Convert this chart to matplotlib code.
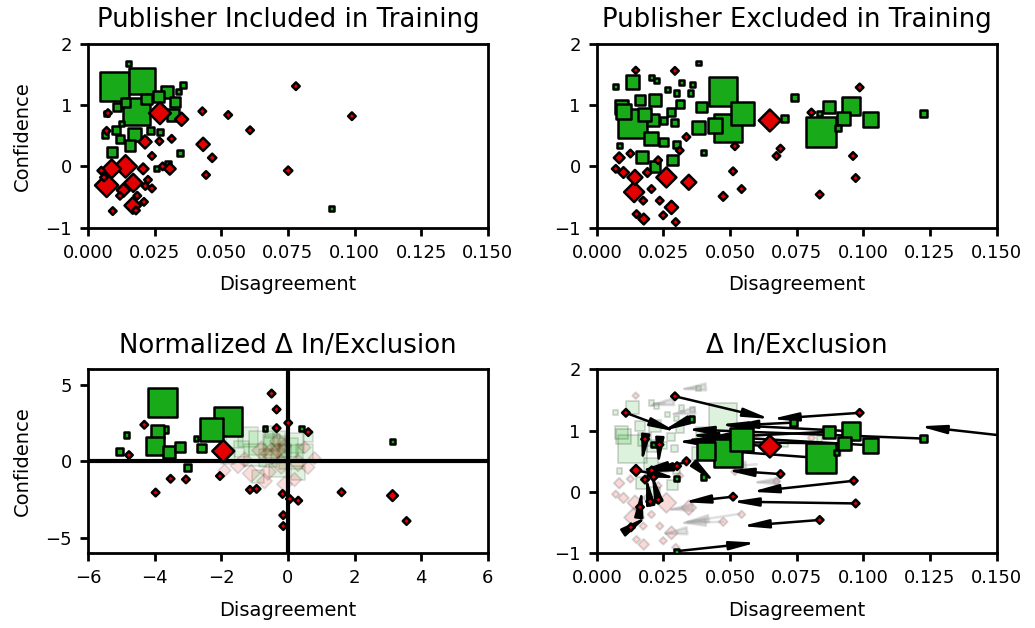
import matplotlib
matplotlib.use("Agg")
import matplotlib.pyplot as plt
import numpy as np
from matplotlib.patches import FancyArrowPatch

GREEN = '#19aa19'
RED = '#e30000'

# --- Publisher included in training: (disagreement, confidence, marker size)
inc_green = [
    (0.0101, 1.30, 440), (0.0204, 1.40, 350), (0.0183, 0.89, 380), (0.0176, 0.52, 90),
    (0.0151, 1.68, 15), (0.0297, 1.22, 75), (0.0326, 1.05, 55), (0.0357, 1.33, 15),
    (0.0339, 1.22, 15), (0.0264, 1.14, 55), (0.0108, 0.97, 35), (0.0320, 0.84, 75),
    (0.0105, 0.59, 35), (0.0233, 0.59, 25), (0.0158, 0.34, 55), (0.0089, 0.23, 55),
    (0.0064, 0.51, 15), (0.0270, 0.56, 15), (0.0345, 0.22, 15), (0.0258, -0.03, 15),
    (0.0126, 0.70, 15), (0.0070, 0.86, 15), (0.0912, -0.69, 12), (0.0300, 0.05, 15),
    (0.0140, 1.05, 40), (0.0220, 1.10, 60), (0.0120, 0.45, 30),
]
inc_red = [
    (0.0270, 0.87, 125), (0.0351, 0.77, 45), (0.0214, 0.40, 45), (0.0141, 0.00, 130),
    (0.0089, -0.04, 90), (0.0070, -0.31, 140), (0.0170, -0.27, 85), (0.0133, -0.39, 45),
    (0.0168, -0.64, 70), (0.0207, -0.04, 30), (0.0307, -0.04, 35), (0.0432, 0.36, 45),
    (0.0429, 0.90, 15), (0.0526, 0.84, 15), (0.0608, 0.59, 15), (0.0466, 0.14, 18),
    (0.0443, -0.14, 15), (0.0751, -0.07, 18), (0.0093, -0.73, 15), (0.0314, 0.45, 15),
    (0.0268, 0.41, 15), (0.0780, 1.31, 15), (0.0990, 0.82, 15), (0.0215, -0.32, 15),
    (0.0240, -0.36, 15), (0.0225, -0.22, 15), (0.0185, -0.48, 15), (0.0210, -0.58, 15),
    (0.0180, -0.72, 15), (0.0120, -0.48, 15), (0.0050, -0.07, 15), (0.0070, 0.58, 15),
    (0.0075, 0.87, 15), (0.0060, -0.18, 15), (0.0280, 0.00, 15), (0.0240, 0.17, 15),
]

# --- Publisher excluded in training
exc_green = [
    (0.0134, 0.70, 420), (0.0474, 1.22, 420), (0.0493, 0.63, 420), (0.0546, 0.86, 280),
    (0.0443, 0.67, 110), (0.0380, 0.63, 90), (0.0393, 0.97, 55), (0.0134, 1.38, 90),
    (0.0218, 1.08, 75), (0.0161, 1.08, 55), (0.0093, 0.97, 90), (0.0203, 0.45, 90),
    (0.0168, 0.15, 75), (0.0284, 0.11, 55), (0.0218, 0.00, 55), (0.0278, 0.89, 35),
    (0.0311, 1.02, 35), (0.0293, 0.71, 25), (0.0211, 0.75, 75), (0.0249, 0.75, 25),
    (0.0086, 0.34, 15), (0.0071, 1.30, 15), (0.0205, 1.45, 15), (0.0224, 1.40, 15),
    (0.0264, 1.26, 15), (0.0318, 1.37, 15), (0.0299, 1.20, 15), (0.0352, 1.20, 15),
    (0.0359, 1.34, 15), (0.0380, 1.69, 12), (0.0399, 0.23, 15), (0.0743, 1.12, 25),
    (0.0705, 0.79, 25), (0.0840, 0.56, 460), (0.0953, 0.98, 165), (0.0870, 0.97, 75),
    (0.0924, 0.78, 90), (0.1027, 0.77, 110), (0.1226, 0.86, 25), (0.0905, 0.63, 15),
    (0.0836, 0.86, 15), (0.0100, 0.90, 120), (0.0180, 0.85, 90), (0.0250, 0.40, 40),
    (0.0300, 0.35, 25),
]
exc_red = [
    (0.0649, 0.75, 125), (0.0345, -0.26, 58), (0.0261, -0.18, 104), (0.0140, -0.42, 104),
    (0.0143, -0.18, 58), (0.0280, -0.67, 45), (0.0084, 0.14, 30), (0.0126, 0.21, 15),
    (0.0176, -0.86, 30), (0.0149, -0.78, 15), (0.0249, -0.80, 15), (0.0296, -0.91, 15),
    (0.0474, -0.49, 20), (0.0543, -0.37, 15), (0.0511, -0.08, 15), (0.0518, 0.33, 15),
    (0.0689, 0.29, 15), (0.0674, 0.17, 15), (0.0293, 1.56, 15), (0.0146, 1.57, 12),
    (0.0336, 0.48, 15), (0.0311, 0.26, 15), (0.0174, -0.56, 15), (0.0071, -0.04, 15),
    (0.0236, -0.56, 15), (0.0205, -0.37, 15), (0.0986, 1.29, 15), (0.0961, 0.17, 15),
    (0.0971, -0.19, 15), (0.0836, -0.46, 15), (0.0805, 0.88, 15), (0.0100, -0.10, 30),
    (0.0190, -0.10, 20), (0.0230, 0.10, 15),
]

# --- Normalized delta (highlighted publishers)
nd_green = [
    (-3.77, 3.82, 440), (-1.79, 2.60, 420), (-2.29, 2.05, 280), (-3.69, 2.05, 25),
    (-3.92, 1.94, 90), (-3.99, 0.99, 160), (-3.56, 0.62, 75), (-3.24, 0.91, 55),
    (-2.59, 0.84, 35), (-3.02, -0.44, 25), (-5.04, 0.66, 25), (-4.84, 1.72, 15),
    (-2.76, 1.46, 12), (-0.69, 2.16, 12), (0.41, 2.16, 12), (3.13, 1.28, 12),
]
nd_red = [
    (-1.94, 0.66, 125), (-4.31, 2.38, 15), (-4.77, 0.40, 15), (-3.97, -2.05, 15),
    (-3.52, -1.15, 15), (-3.06, -1.19, 15), (-2.04, -0.97, 15), (-0.49, 4.42, 15),
    (-0.34, 3.38, 15), (-0.34, 2.16, 15), (0.01, 2.50, 15), (-1.14, -1.87, 15),
    (-0.94, -1.81, 15), (-0.16, -2.14, 15), (0.06, -2.47, 15), (0.31, -2.58, 15),
    (-0.14, -3.53, 15), (-0.14, -4.24, 15), (0.61, 1.90, 15), (1.61, -2.03, 15),
    (3.14, -2.25, 30), (3.56, -3.91, 15),
]
# faint background of all other publishers
nd_bg_green = [
    (-1.6, 1.4, 150), (-1.2, 1.6, 200), (-0.8, 1.2, 300), (-0.4, 0.9, 250), (-0.2, 1.5, 120),
    (0.2, 1.2, 200), (0.5, 0.6, 150), (-1.0, 0.4, 250), (-0.6, 0.2, 180), (0.1, 0.3, 300),
    (-0.3, -0.5, 150), (-1.4, 0.8, 120), (0.6, 1.6, 60), (-0.5, 1.9, 80), (0.3, -0.8, 100),
    (-1.8, 0.3, 100), (-0.9, -1.0, 80), (0.0, 0.9, 200), (-0.2, 0.5, 200), (-0.5, 1.2, 150),
]
nd_bg_red = [
    (-1.5, -0.3, 60), (-1.1, -0.8, 80), (-0.7, -1.3, 60), (-0.2, -0.2, 100), (0.3, -0.1, 80),
    (-0.5, 0.5, 120), (-1.3, 0.1, 60), (0.6, -0.4, 50), (-0.1, -1.5, 60), (0.5, 0.9, 40),
    (-0.8, 0.7, 90), (-1.9, -0.6, 40), (0.8, 0.2, 40), (-0.3, 1.3, 70), (-0.6, -0.7, 70),
    (0.2, -1.2, 50), (-0.3, 0.7, 60), (-0.1, 1.0, 50),
]

# --- Delta in/exclusion (highlighted publishers)
dl_green = [
    (0.0493, 0.63, 400), (0.0543, 0.85, 275), (0.0411, 0.66, 170), (0.0736, 1.13, 25),
    (0.0840, 0.55, 460), (0.0953, 0.99, 165), (0.0870, 0.98, 75), (0.0928, 0.79, 90),
    (0.1026, 0.76, 110), (0.1224, 0.87, 25), (0.0354, 1.19, 15), (0.0215, 0.77, 15),
    (0.0399, 0.24, 15), (0.0299, 0.22, 15), (0.0299, -0.97, 12), (0.0900, 0.64, 15),
]
dl_red = [
    (0.0649, 0.74, 125), (0.0986, 1.29, 15), (0.0293, 1.56, 15), (0.0109, 1.29, 15),
    (0.0181, 0.86, 15), (0.0235, 0.77, 15), (0.0147, 0.35, 30), (0.0336, 0.50, 15),
    (0.0301, 0.42, 15), (0.0689, 0.29, 15), (0.0964, 0.18, 15), (0.0971, -0.19, 15),
    (0.0511, -0.08, 15), (0.0836, -0.46, 15), (0.0181, 0.20, 15), (0.0206, 0.35, 15),
    (0.0213, 0.24, 15), (0.0200, -0.16, 15), (0.0231, -0.13, 15), (0.0162, -0.25, 15),
    (0.0128, -0.58, 15),
]
# (x start, y start, x end, y end)
dl_arrows = [
    (0.0293, 1.56, 0.0650, 1.19), (0.0986, 1.29, 0.0655, 1.19), (0.0109, 1.29, 0.0300, 0.98),
    (0.0354, 1.19, 0.0245, 0.99), (0.0181, 0.86, 0.0169, 0.47), (0.0235, 0.77, 0.0231, 0.42),
    (0.1224, 0.87, 0.0336, 1.02), (0.1026, 0.76, 0.0349, 0.93), (0.0953, 0.99, 0.0461, 1.10),
    (0.0870, 0.98, 0.0399, 0.88), (0.0928, 0.79, 0.0299, 0.82), (0.0840, 0.55, 0.0380, 0.70),
    (0.0649, 0.74, 0.0330, 0.86), (0.0736, 1.13, 0.0500, 1.08), (0.1600, 0.88, 0.1210, 1.07),
    (0.0689, 0.29, 0.0486, 0.35), (0.0964, 0.18, 0.0580, 0.00), (0.0971, -0.19, 0.0505, -0.16),
    (0.0511, -0.08, 0.0324, -0.17), (0.0836, -0.46, 0.0543, -0.56), (0.0299, -0.97, 0.0599, -0.83),
    (0.0369, 0.44, 0.0444, 0.15), (0.0335, 0.48, 0.0160, 0.34), (0.0301, 0.42, 0.0180, 0.32),
    (0.0147, 0.35, 0.0300, 0.22), (0.0162, -0.25, 0.0170, 0.05), (0.0231, -0.13, 0.0206, 0.30),
    (0.0200, -0.16, 0.0185, 0.25), (0.0128, -0.58, 0.0190, -0.40),
]
dl_faint_arrows = [
    (0.0375, 1.70, 0.0300, 1.67), (0.0536, -0.36, 0.0311, -0.51), (0.0474, -0.49, 0.0300, -0.51),
    (0.0674, 0.17, 0.0574, 0.15), (0.0281, -0.67, 0.0230, -0.70), (0.0255, 1.45, 0.0180, 1.40),
    (0.0330, 1.30, 0.0260, 1.25), (0.0600, 0.45, 0.0450, 0.40), (0.0345, -0.26, 0.0250, -0.30),
]

plt.rcParams['axes.linewidth'] = 2
plt.rcParams['xtick.major.width'] = 2
plt.rcParams['ytick.major.width'] = 2
plt.rcParams['xtick.major.size'] = 6
plt.rcParams['ytick.major.size'] = 6
plt.rcParams['xtick.major.pad'] = 5.5
plt.rcParams['ytick.major.pad'] = 5.5
plt.rcParams['xtick.labelsize'] = 13
plt.rcParams['ytick.labelsize'] = 13
plt.rcParams['axes.labelpad'] = 10
plt.rcParams['axes.titlepad'] = 12


def scatter(ax, pts, marker, color, alpha=1.0, lw=1.8, z=3):
    a = np.array(pts)
    ax.scatter(a[:, 0], a[:, 1], s=a[:, 2], marker=marker, c=color,
               edgecolors='black', linewidths=lw, alpha=alpha, zorder=z)


def arrows(ax, arr, color='black', alpha=1.0, lw=1.8, z=2):
    for x0, y0, x1, y1 in arr:
        p = FancyArrowPatch((x0, y0), (x1, y1), arrowstyle='-|>,head_length=1.1,head_width=0.18',
                            mutation_scale=14, color=color, lw=lw, alpha=alpha,
                            shrinkA=0, shrinkB=0, zorder=z)
        ax.add_patch(p)


fig, axs = plt.subplots(2, 2, figsize=(10.35, 6.28), dpi=100)
fig.subplots_adjust(left=0.085, right=0.963, top=0.930, bottom=0.1194,
                    wspace=0.2725, hspace=0.772)

ax = axs[0, 0]
scatter(ax, inc_green, 's', GREEN)
scatter(ax, inc_red, 'D', RED)
ax.set_title('Publisher Included in Training', fontsize=18.7)

ax = axs[0, 1]
scatter(ax, exc_green, 's', GREEN)
scatter(ax, exc_red, 'D', RED)
ax.set_title('Publisher Excluded in Training', fontsize=18.7)

ax = axs[1, 0]
scatter(ax, nd_bg_green, 's', GREEN, alpha=0.13, lw=1.2, z=1)
scatter(ax, nd_bg_red, 'D', RED, alpha=0.13, lw=1.2, z=1)
ax.axhline(0, color='black', lw=3, zorder=2)
ax.axvline(0, color='black', lw=3, zorder=2)
scatter(ax, nd_green, 's', GREEN)
scatter(ax, nd_red, 'D', RED)
ax.set_xlim(-6, 6)
ax.set_ylim(-6, 6)
ax.set_xticks([-6, -4, -2, 0, 2, 4, 6])
ax.set_yticks([-5, 0, 5])
ax.set_title('Normalized Δ In/Exclusion', fontsize=18.7)

ax = axs[1, 1]
scatter(ax, exc_green, 's', GREEN, alpha=0.15, lw=1.4, z=1)
scatter(ax, exc_red, 'D', RED, alpha=0.15, lw=1.4, z=1)
arrows(ax, dl_faint_arrows, color='#999999', alpha=0.3, z=1)
arrows(ax, dl_arrows)
scatter(ax, dl_green, 's', GREEN)
scatter(ax, dl_red, 'D', RED)
ax.set_title('Δ In/Exclusion', fontsize=18.7)

for a in (axs[0, 0], axs[0, 1], axs[1, 1]):
    a.set_xlim(0, 0.15)
    a.set_ylim(-1, 2)
    a.set_xticks([0, 0.025, 0.05, 0.075, 0.1, 0.125, 0.15])
    a.set_xticklabels(['0.000', '0.025', '0.050', '0.075', '0.100', '0.125', '0.150'])
    a.set_yticks([-1, 0, 1, 2])

for a in axs.flat:
    a.set_xlabel('Disagreement', fontsize=14)
axs[0, 0].set_ylabel('Confidence', fontsize=14)
axs[1, 0].set_ylabel('Confidence', fontsize=14)

fig.savefig('out.png', dpi=100)
